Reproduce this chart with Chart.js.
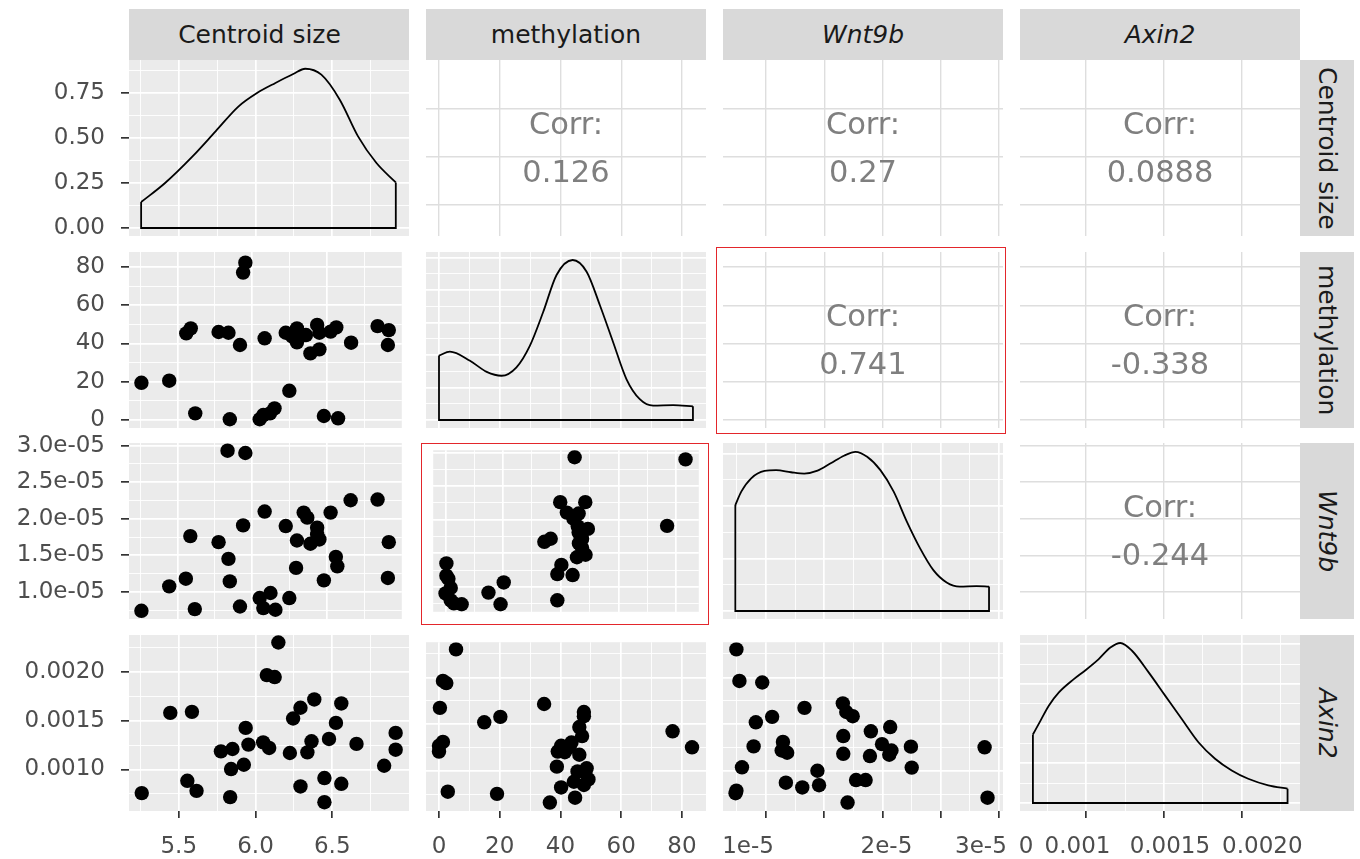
<!DOCTYPE html>
<html>
<head>
<meta charset="utf-8">
<script src="https://cdn.jsdelivr.net/npm/chart.js@4.4.1/dist/chart.umd.min.js"></script>
<style>
  body { margin: 0; background: #fff; width: 1360px; height: 859px; position: relative; overflow: hidden; font-family: 'DejaVu Sans', sans-serif; }
  canvas { position: absolute; }
  .strip { position: absolute; background: #d9d9d9; color: #1a1a1a; font-size: 25px; display: flex; align-items: center; justify-content: center; white-space: nowrap; box-sizing: border-box; }
  .strip.side { writing-mode: vertical-rl; }
  .it { font-style: italic; }
  .corr { position: absolute; transform: translate(-50%, -50%); font-size: 30.5px; line-height: 1; color: #7f7f7f; white-space: nowrap; z-index: 2; }
  .mark { position: absolute; border: 1.5px solid #e3262b; box-sizing: border-box; z-index: 3; }
</style>
</head>
<body>
<script>
// variables of the pairs plot
const varNames = ['Centroid size', 'methylation', 'Wnt9b', 'Axin2'];
const italicVars = [false, false, true, true];

// axis ranges and breaks per variable
const sizeRange = [5.176, 7.0];
const sizeMajor = [5.5, 6.0, 6.5];
const sizeMinor = [5.25, 5.75, 6.25, 6.75];
const sizeLabels = ['5.5', '6.0', '6.5'];

const methRange = [-4.28, 87.9];
const methMajor = [0, 20, 40, 60, 80];
const methMinor = [10, 30, 50, 70];
const methLabels = ['0', '20', '40', '60', '80'];

const wntRange = [0.630e-5, 3.035e-5];
const wntMajor = [1e-5, 1.5e-5, 2e-5, 2.5e-5, 3e-5];
const wntMinor = [0.75e-5, 1.25e-5, 1.75e-5, 2.25e-5, 2.75e-5];
const wntLabelsLeft = ['1.0e-05', '1.5e-05', '2.0e-05', '2.5e-05', '3.0e-05'];
const wntLabelsBottom = ['1e-5', '', '      2e-5', '', '3e-5'];

const axinRange = [0.000575, 0.002375];
const axinMajor = [0.001, 0.0015, 0.002];
const axinMinor = [0.00075, 0.00125, 0.00175, 0.00225];
const axinLabelsLeft = ['0.0010', '0.0015', '0.0020'];
const axinLabelsBottom = ['0.001    ', '0.0015', '    0.0020'];

// density curves on the diagonal
const sizeDensX = [5.255, 5.411, 5.590, 5.740, 5.890, 6.010, 6.130, 6.249, 6.324, 6.429, 6.549, 6.668, 6.788, 6.914];
const sizeDensY = [0.144, 0.250, 0.398, 0.537, 0.676, 0.750, 0.806, 0.857, 0.885, 0.852, 0.713, 0.509, 0.361, 0.253];
const sizeDensRange = [-0.0445, 0.9335];
const sizeDensMajor = [0, 0.25, 0.5, 0.75];
const sizeDensMinor = [0.125, 0.375, 0.625, 0.875];
const sizeDensLabels = ['0.00', '0.25', '0.50', '0.75'];

const methDensX = [0, 3.6, 10.2, 15.7, 20.6, 25.5, 29.9, 34.3, 38.7, 44.0, 48.6, 53.0, 57.3, 61.7, 66.1, 70.5, 77.1, 83.6];
const methDensY = [0.0099, 0.0105, 0.0091, 0.0074, 0.0068, 0.0081, 0.0114, 0.0166, 0.0223, 0.0246, 0.0228, 0.0176, 0.0120, 0.0063, 0.0032, 0.0022, 0.0023, 0.0021];
const methDensRange = [-0.00123, 0.02583];
const methDensMajor = [0, 0.005, 0.01, 0.015, 0.02, 0.025];
const methDensMinor = [0.0025, 0.0075, 0.0125, 0.0175, 0.0225];

const wntDensX = [0.736e-5, 0.787e-5, 0.872e-5, 0.987e-5, 1.086e-5, 1.214e-5, 1.328e-5, 1.442e-5, 1.555e-5, 1.669e-5, 1.768e-5,
                  1.868e-5, 1.982e-5, 2.096e-5, 2.209e-5, 2.323e-5, 2.437e-5, 2.551e-5, 2.664e-5, 2.807e-5, 2.915e-5];
const wntDensY = [40400, 45500, 50600, 53400, 53700, 52900, 52400, 53500, 56300, 59200, 60700,
                  58800, 53700, 45500, 34100, 23900, 15600, 10900, 9300, 9500, 9300];
const wntDensRange = [-3050, 64050];
const wntDensMajor = [0, 20000, 40000, 60000];
const wntDensMinor = [10000, 30000, 50000];

const axinDensX = [0.000658, 0.000707, 0.000760, 0.000825, 0.000921, 0.000996, 0.001081, 0.001156, 0.001220, 0.001295,
                   0.001402, 0.001508, 0.001615, 0.001722, 0.001829, 0.001936, 0.002042, 0.002171, 0.002295];
const axinDensY = [345, 415, 490, 557, 624, 669, 725, 783, 806, 767, 658, 541, 423, 306, 223, 164, 122, 89, 72];
const axinDensRange = [-40.3, 846.3];
const axinDensMajor = [0, 200, 400, 600, 800];
const axinDensMinor = [100, 300, 500, 700];

// scatter panels, [x, y]
const sizeMeth = [[5.954, 82.3], [5.939, 77.1], [5.559, 45.3], [5.589, 47.9], [5.775, 46.0], [5.841, 45.6], [5.918, 39.2],
  [6.083, 42.7], [6.224, 45.6], [6.299, 47.9], [6.299, 40.6], [6.359, 44.4], [6.434, 49.7], [6.449, 45.6], [6.389, 34.8],
  [6.449, 36.9], [6.524, 46.2], [6.562, 48.4], [6.661, 40.4], [6.838, 49.1], [6.913, 47.0], [6.907, 39.2], [5.259, 19.4],
  [5.445, 20.5], [5.619, 3.4], [5.850, 0.3], [6.050, 0.3], [6.074, 2.5], [6.119, 3.4], [6.149, 6.0], [6.248, 15.2],
  [6.479, 2.0], [6.574, 0.8], [6.269, 43.5]];

const sizeWnt = [[5.835, 2.93e-5], [5.954, 2.898e-5], [6.658, 2.253e-5], [6.838, 2.262e-5], [6.083, 2.098e-5], [6.344, 2.084e-5],
  [6.368, 2.015e-5], [6.524, 2.084e-5], [5.939, 1.909e-5], [6.224, 1.9e-5], [6.434, 1.878e-5], [6.434, 1.786e-5],
  [5.586, 1.763e-5], [5.775, 1.68e-5], [6.299, 1.703e-5], [6.389, 1.658e-5], [6.449, 1.717e-5], [6.913, 1.68e-5],
  [5.841, 1.452e-5], [6.559, 1.479e-5], [6.569, 1.35e-5], [6.293, 1.328e-5], [5.556, 1.181e-5], [5.85, 1.144e-5],
  [6.479, 1.158e-5], [6.907, 1.191e-5], [5.445, 1.076e-5], [6.122, 0.985e-5], [6.05, 0.916e-5], [6.248, 0.916e-5],
  [5.918, 0.801e-5], [6.074, 0.779e-5], [6.155, 0.756e-5], [5.259, 0.742e-5], [5.616, 0.765e-5]];

const sizeAxin = [[6.149, 0.002298], [6.074, 0.001965], [6.125, 0.001945], [6.383, 0.001716], [6.559, 0.001675],
  [6.293, 0.001631], [5.445, 0.001579], [5.586, 0.001589], [6.245, 0.001521], [6.524, 0.001476], [5.936, 0.001425],
  [6.913, 0.001374], [6.479, 0.001312], [6.365, 0.001288], [5.954, 0.001254], [6.05, 0.001277], [6.089, 0.00122],
  [6.658, 0.001261], [5.775, 0.001185], [5.85, 0.001209], [6.224, 0.001168], [6.338, 0.001175], [6.913, 0.001202],
  [5.924, 0.001048], [5.841, 0.001004], [6.838, 0.001038], [5.556, 0.000884], [6.449, 0.000912], [6.559, 0.000853],
  [6.293, 0.000826], [5.616, 0.000781], [5.259, 0.000758], [5.835, 0.000717], [6.449, 0.000665]];

const methWnt = [[44.8, 2.93e-5], [83.3, 2.898e-5], [39.8, 2.262e-5], [48.5, 2.262e-5], [42.1, 2.106e-5], [46.2, 2.092e-5],
  [44.4, 2.015e-5], [76.9, 1.909e-5], [45.9, 1.9e-5], [49.4, 1.864e-5], [46.2, 1.809e-5], [47.4, 1.717e-5], [34.3, 1.672e-5],
  [36.5, 1.717e-5], [46.3, 1.648e-5], [48.6, 1.479e-5], [45.6, 1.442e-5], [40.2, 1.328e-5], [38.8, 1.191e-5], [44.1, 1.177e-5],
  [38.8, 0.801e-5], [0.3, 1.35e-5], [0.3, 1.168e-5], [1.0, 1.122e-5], [1.8, 0.985e-5], [0, 0.903e-5], [1.8, 0.801e-5],
  [2.9, 0.756e-5], [5.6, 0.742e-5], [14.9, 0.916e-5], [20.2, 1.067e-5], [19.1, 0.742e-5], [47.4, 1.58e-5]];

const methAxin = [[5.6, 0.002298], [1.3, 0.001962], [2.4, 0.001939], [0.3, 0.001675], [34.6, 0.001716], [20.2, 0.001579],
  [14.9, 0.001521], [47.7, 0.001631], [47.7, 0.001586], [46.2, 0.00147], [47.1, 0.001374], [76.9, 0.001425], [83.3, 0.001254],
  [1.3, 0.001312], [0, 0.001271], [0, 0.001209], [39.1, 0.001209], [40.2, 0.001271], [42.9, 0.001254], [43.6, 0.001305],
  [46.2, 0.001175], [41.4, 0.001202], [38.8, 0.001048], [48.6, 0.001031], [45.6, 0.000997], [49.2, 0.000912], [44.4, 0.000887],
  [40.2, 0.000826], [47.7, 0.000853], [2.9, 0.000781], [19.1, 0.000758], [44.8, 0.000717], [36.5, 0.000665], [48.2, 0.000982]];

const wntAxin = [[0.745e-5, 0.002298], [0.771e-5, 0.001962], [0.967e-5, 0.001945], [1.33e-5, 0.001675], [1.659e-5, 0.001723],
  [1.689e-5, 0.001631], [1.744e-5, 0.001586], [1.052e-5, 0.001579], [0.912e-5, 0.001521], [2.066e-5, 0.00147],
  [1.9e-5, 0.001425], [1.663e-5, 0.001374], [1.145e-5, 0.001312], [0.893e-5, 0.001264], [1.134e-5, 0.00122],
  [1.181e-5, 0.001196], [1.996e-5, 0.001288], [2.244e-5, 0.001261], [2.877e-5, 0.001254], [2.077e-5, 0.00122],
  [2.058e-5, 0.001175], [1.663e-5, 0.001185], [1.892e-5, 0.001161], [0.793e-5, 0.001041], [2.251e-5, 0.001038],
  [1.441e-5, 0.001004], [1.17e-5, 0.000877], [1.311e-5, 0.000826], [1.455e-5, 0.00085], [1.773e-5, 0.000905],
  [1.855e-5, 0.000905], [0.738e-5, 0.000764], [0.745e-5, 0.000792], [1.7e-5, 0.000665], [2.902e-5, 0.000717]];

// correlations in the upper panels: [row, col, text]
const corrCells = [[0, 1, '0.126'], [0, 2, '0.27'], [0, 3, '0.0888'], [1, 2, '0.741'], [1, 3, '-0.338'], [2, 3, '-0.244']];
// highlighted panels: [row, col]
const highlighted = [[1, 2], [2, 1]];

// layout
const colX = [129, 426, 723, 1020], rowY = [60, 252, 443, 635];
const PW = 280, PH = 176, LEFT_W = 129, BOTTOM_H = 48;

Chart.defaults.font.family = 'DejaVu Sans';

const axes = [
  { range: sizeRange, major: sizeMajor, minor: sizeMinor, left: null, bottom: sizeLabels },
  { range: methRange, major: methMajor, minor: methMinor, left: methLabels, bottom: methLabels },
  { range: wntRange, major: wntMajor, minor: wntMinor, left: wntLabelsLeft, bottom: wntLabelsBottom },
  { range: axinRange, major: axinMajor, minor: axinMinor, left: axinLabelsLeft, bottom: axinLabelsBottom }
];
const dens = [
  { range: sizeDensRange, major: sizeDensMajor, minor: sizeDensMinor, labels: sizeDensLabels, x: sizeDensX, y: sizeDensY },
  { range: methDensRange, major: methDensMajor, minor: methDensMinor, labels: null, x: methDensX, y: methDensY },
  { range: wntDensRange, major: wntDensMajor, minor: wntDensMinor, labels: null, x: wntDensX, y: wntDensY },
  { range: axinDensRange, major: axinDensMajor, minor: axinDensMinor, labels: null, x: axinDensX, y: axinDensY }
];
const scatters = { '1,0': sizeMeth, '2,0': sizeWnt, '3,0': sizeAxin, '2,1': methWnt, '3,1': methAxin, '3,2': wntAxin };
const bottomOffsets = [0, 0, -18, 6];

const panelBg = {
  id: 'panelBg',
  beforeDraw(chart, args, opts) {
    const a = chart.chartArea, ctx = chart.ctx;
    ctx.save();
    ctx.fillStyle = opts.color;
    ctx.fillRect(a.left, a.top, a.right - a.left, a.bottom - a.top);
    ctx.restore();
  }
};

function buildScale(dir, range, major, minor, labels, show, corrStyle, extra, offset) {
  const vals = corrStyle ? major.slice() : major.concat(minor);
  const lab = new Map();
  major.forEach((v, i) => lab.set(v, labels ? labels[i] : ''));
  if (extra) { vals.push(extra.value); lab.set(extra.value, extra.label); }
  const isMajor = v => major.includes(v);
  const isExtra = v => extra && v === extra.value;
  return {
    type: 'linear', min: range[0], max: range[1],
    afterBuildTicks: s => { s.ticks = vals.map(v => ({ value: v })); },
    afterFit: s => {
      if (dir === 'x') s.height = show ? BOTTOM_H : 0; else s.width = show ? LEFT_W : 0;
      s.paddingLeft = s.paddingRight = s.paddingTop = s.paddingBottom = 0;
    },
    border: { display: false },
    grid: {
      drawTicks: show,
      tickLength: dir === 'x' ? 7 : 8,
      color: c => isExtra(c.tick.value) ? 'rgba(0,0,0,0)' : (corrStyle ? '#dedede' : '#ffffff'),
      lineWidth: c => corrStyle ? 1.4 : (isMajor(c.tick.value) ? 1.7 : 0.9),
      tickColor: c => isMajor(c.tick.value) ? '#333333' : 'rgba(0,0,0,0)',
      tickWidth: 1.7
    },
    ticks: {
      display: show, autoSkip: false, maxRotation: 0, minRotation: 0,
      padding: dir === 'x' ? 15 : 16,
      labelOffset: offset || 0,
      color: '#4d4d4d', font: { family: 'DejaVu Sans', size: 23 },
      callback: v => lab.has(v) ? lab.get(v) : ''
    }
  };
}

function addPanel(r, c) {
  const showY = c === 0, showX = r === 3;
  // room around the panel for labels that stick out
  const padT = showY ? 16 : 0, padB = (showY && !showX) ? 16 : 0;
  const padL = (showX && !showY) ? 34 : 0, padR = showX ? 34 : 0;
  const left = showY ? 0 : colX[c] - padL;
  const width = PW + (showY ? LEFT_W : padL) + padR;
  const height = PH + padT + padB + (showX ? BOTTOM_H : 0);
  const canvas = document.createElement('canvas');
  canvas.width = width; canvas.height = height;
  canvas.style.left = left + 'px'; canvas.style.top = (rowY[r] - padT) + 'px';
  canvas.style.width = width + 'px'; canvas.style.height = height + 'px';
  document.body.appendChild(canvas);

  const ax = axes[c];
  const upper = c > r;
  const extra = (showX && c === 3) ? { value: axinRange[0], label: '0' } : null;
  const xScale = buildScale('x', ax.range, ax.major, ax.minor, ax.bottom, showX, upper, extra, showX ? bottomOffsets[c] : 0);
  let yScale, datasets = [];

  if (r === c) {
    const d = dens[r];
    yScale = buildScale('y', d.range, d.major, d.minor, d.labels, showY, false, null, 0);
    const n = d.x.length;
    datasets.push({
      data: d.x.map((x, i) => ({ x: x, y: d.y[i] })),
      showLine: true, cubicInterpolationMode: 'monotone', borderColor: '#000', borderWidth: 1.8, pointRadius: 0
    });
    datasets.push({
      data: [{ x: d.x[0], y: d.y[0] }, { x: d.x[0], y: 0 }, { x: d.x[n - 1], y: 0 }, { x: d.x[n - 1], y: d.y[n - 1] }],
      showLine: true, tension: 0, borderColor: '#000', borderWidth: 1.8, pointRadius: 0
    });
  } else {
    const ay = axes[r];
    yScale = buildScale('y', ay.range, ay.major, ay.minor, ay.left, showY, upper, null, 0);
    if (!upper) {
      datasets.push({
        data: scatters[r + ',' + c].map(p => ({ x: p[0], y: p[1] })),
        pointRadius: 7.2, pointBackgroundColor: '#000', pointBorderWidth: 0, showLine: false
      });
    }
  }

  new Chart(canvas, {
    type: 'scatter',
    data: { datasets: datasets },
    options: {
      responsive: false, animation: false, events: [],
      layout: { padding: { top: padT, bottom: padB, left: padL, right: padR } },
      scales: { x: xScale, y: yScale },
      plugins: { legend: { display: false }, tooltip: { enabled: false }, panelBg: { color: upper ? '#ffffff' : '#ebebeb' } }
    },
    plugins: [panelBg]
  });
}

for (let r = 0; r < 4; r++) for (let c = 0; c < 4; c++) addPanel(r, c);

// facet strips
varNames.forEach((name, i) => {
  const top = document.createElement('div');
  top.className = 'strip' + (italicVars[i] ? ' it' : '');
  top.style.cssText = `left:${colX[i]}px;top:9px;width:${PW}px;height:51px`;
  if (i === 0) top.style.paddingRight = '19px';
  top.textContent = name;
  document.body.appendChild(top);
  const side = document.createElement('div');
  side.className = 'strip side' + (italicVars[i] ? ' it' : '');
  side.style.cssText = `left:${colX[3] + PW}px;top:${rowY[i]}px;width:54px;height:${PH}px`;
  side.textContent = name;
  document.body.appendChild(side);
});

// correlation labels
corrCells.forEach(([r, c, txt]) => {
  const cx = colX[c] + PW / 2, cy = rowY[r] + PH / 2;
  [['Corr:', -24], [txt, 24]].forEach(([t, dy]) => {
    const el = document.createElement('div');
    el.className = 'corr';
    el.style.left = cx + 'px'; el.style.top = (cy + dy) + 'px';
    el.textContent = t;
    document.body.appendChild(el);
  });
});

// red frames
highlighted.forEach(([r, c]) => {
  const el = document.createElement('div');
  el.className = 'mark';
  const dl = r === 1 ? 7 : 5, dt = r === 1 ? 5 : 0;
  el.style.cssText = `left:${colX[c] - dl}px;top:${rowY[r] - dt}px;width:${PW + dl + 3}px;height:${PH + dt + 6}px`;
  document.body.appendChild(el);
});
</script>
</body>
</html>
